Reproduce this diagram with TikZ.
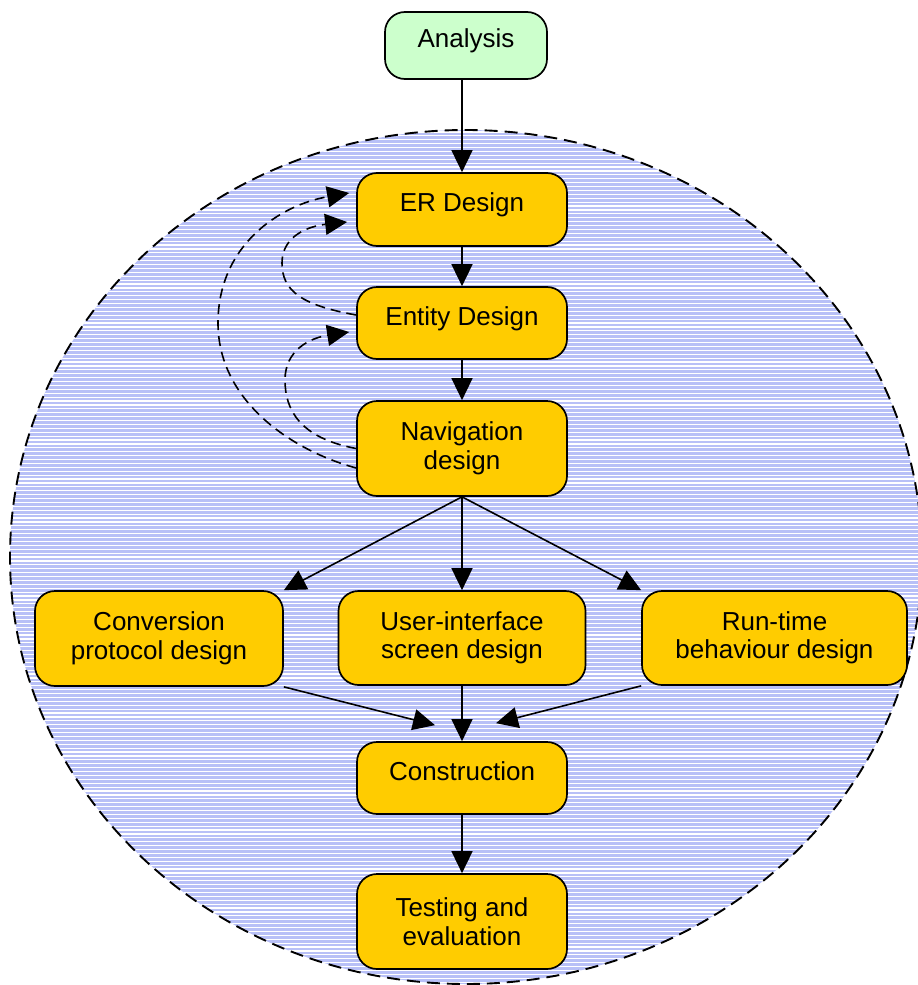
\documentclass[tikz,border=0pt]{standalone}
\usepackage{fontspec}
\setmainfont{Liberation Sans}
\usetikzlibrary{arrows.meta,calc}

\definecolor{gold}{RGB}{255,204,0}
\definecolor{mint}{RGB}{204,255,204}
\definecolor{lavender}{RGB}{184,192,247}

\tikzset{
  stage/.style={draw=black, line width=1.7pt, rounded corners=20pt,
    fill=gold, align=center, inner sep=0pt,
    font=\fontsize{26}{28.5}\selectfont},
  oneline/.style={text height=18.5pt, text depth=14pt},
  flow/.style={line width=1.6pt, -{Triangle[length=22pt,width=21pt]}},
  rework/.style={flow, dash pattern=on 10pt off 6pt}
}

\begin{document}
\begin{tikzpicture}[x=1pt,y=-1pt]
  \useasboundingbox (0,0) rectangle (918,985);

  % striped design phase region
  \begin{scope}
    \clip (466,557) ellipse [x radius=456, y radius=427];
    \fill[lavender] (0,120) rectangle (930,990);
    \foreach \k in {0,...,225}
      \draw[white, line width=1.2pt] (0,{128+3.9*\k}) -- (930,{128+3.9*\k});
  \end{scope}
  \draw[line width=1.9pt, dash pattern=on 13pt off 7pt]
    (466,557) ellipse [x radius=456, y radius=427];

  % stages
  \node[stage, oneline, fill=mint, minimum width=162pt, minimum height=67pt] (ana) at (466,45.5) {Analysis};
  \node[stage, oneline, minimum width=210pt, minimum height=73pt] (er) at (462,209.5) {ER Design};
  \node[stage, oneline, minimum width=210pt, minimum height=72pt] (ent) at (462,323) {Entity Design};
  \node[stage, minimum width=210pt, minimum height=95pt] (nav) at (462,448.5) {Navigation\\design};
  \node[stage, minimum width=248pt, minimum height=95pt] (conv) at (159,638.5) {Conversion\\protocol design};
  \node[stage, minimum width=247pt, minimum height=94pt] (ui) at (462,638) {User-interface\\screen design};
  \node[stage, minimum width=265pt, minimum height=94pt] (run) at (774.5,638) {Run-time\\behaviour design};
  \node[stage, oneline, minimum width=210pt, minimum height=72pt] (cons) at (462,778) {Construction};
  \node[stage, minimum width=210pt, minimum height=95pt] (test) at (462,921.5) {Testing and\\evaluation};

  % main flow
  \draw[flow] (er.north |- ana.south) -- (er.north);
  \draw[flow] (er) -- (ent);
  \draw[flow] (ent) -- (nav);
  \draw[flow] (nav.south) -- (conv.north east);
  \draw[flow] (nav.south) -- (ui.north);
  \draw[flow] (nav.south) -- (run.north west);
  \draw[flow] (conv.south east) -- ($(cons.north)+(-27,-16)$);
  \draw[flow] (ui) -- (cons);
  \draw[flow] (run.south west) -- ($(cons.north)+(34,-18)$);
  \draw[flow] (cons) -- (test);

  % feedback loops
  \draw[rework] ($(nav.west)+(0,19.5)$) .. controls (290,450) and (218,400) .. (218,323)
    .. controls (218,245) and (280,205) .. ($(er.west)+(-7,-16.5)$);
  \draw[rework] ($(ent.west)+(0,-8)$) .. controls (300,305) and (282,290) .. (282,263)
    .. controls (282,235) and (310,226) .. ($(er.west)+(-9,12.5)$);
  \draw[rework] (nav.west) .. controls (300,438) and (285,410) .. (285,380)
    .. controls (285,350) and (310,338) .. ($(ent.west)+(-7,9)$);
\end{tikzpicture}
\end{document}
